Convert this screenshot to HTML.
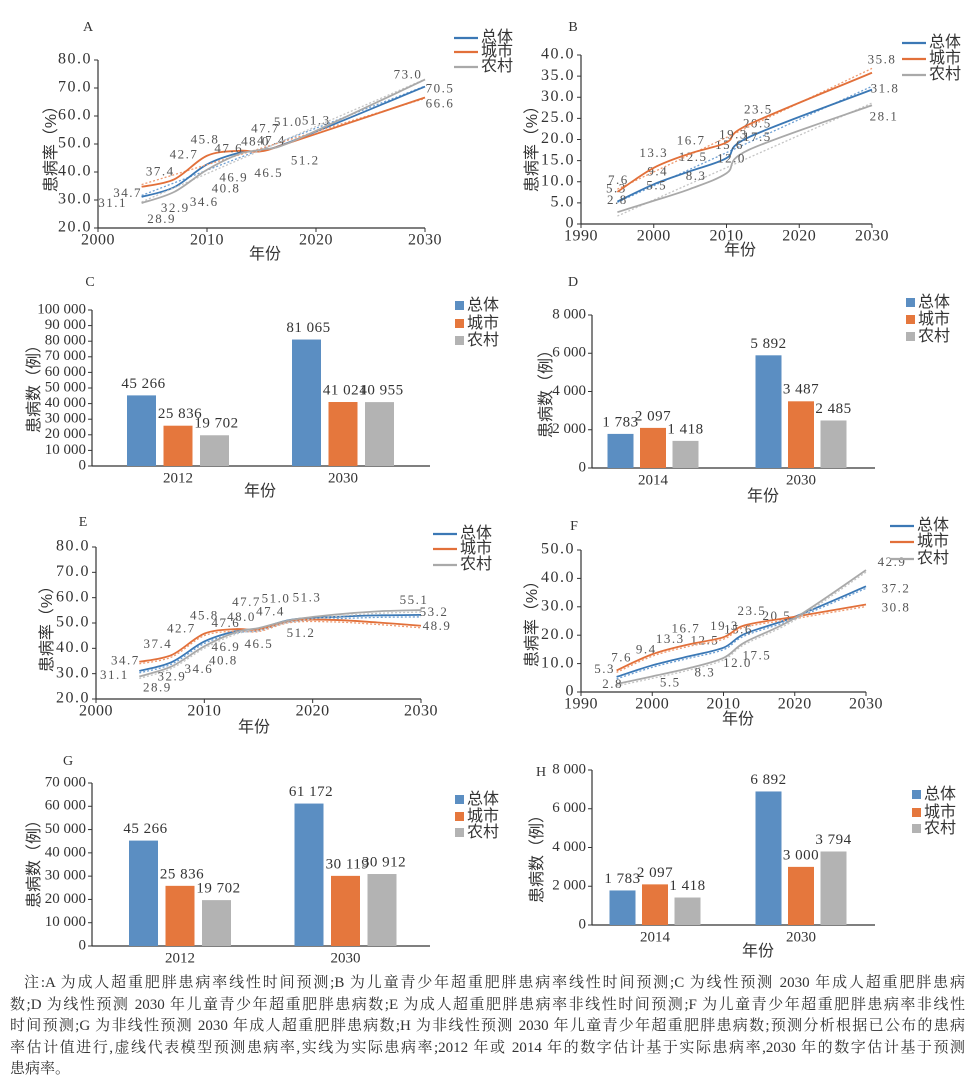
<!DOCTYPE html>
<html><head><meta charset="utf-8">
<style>
html,body{margin:0;padding:0;background:#fff;}
body{width:975px;height:1083px;position:relative;overflow:hidden;}
#fig{position:absolute;left:0;top:0;}
#note{position:absolute;left:10px;top:973px;width:955px;font-family:"Liberation Serif","Noto Serif CJK SC",serif;font-size:15px;line-height:21.6px;color:#333;}
#note div{text-align:justify;text-align-last:justify;white-space:nowrap;overflow:hidden;}
#note div.last{text-align-last:left;}
</style></head>
<body>
<svg id="fig" width="975" height="965" viewBox="0 0 975 965"></svg>
<div id="note">
<div style="text-indent:14px">注:A 为成人超重肥胖患病率线性时间预测;B 为儿童青少年超重肥胖患病率线性时间预测;C 为线性预测 2030 年成人超重肥胖患病</div>
<div>数;D 为线性预测 2030 年儿童青少年超重肥胖患病数;E 为成人超重肥胖患病率非线性时间预测;F 为儿童青少年超重肥胖患病率非线性</div>
<div>时间预测;G 为非线性预测 2030 年成人超重肥胖患病数;H 为非线性预测 2030 年儿童青少年超重肥胖患病数;预测分析根据已公布的患病</div>
<div>率估计值进行,虚线代表模型预测患病率,实线为实际患病率;2012 年或 2014 年的数字估计基于实际患病率,2030 年的数字估计基于预测</div>
<div class="last">患病率。</div>
</div>
<script>
// ---------- DATA ----------
const seriesNames = ['总体','城市','农村'];
// Panel A (adult, linear)
const aYears = [2004,2007,2010,2013,2015,2018,2030];
const aTotal = [31.1,34.6,42.7,46.9,47.7,51.3,70.5];
const aUrban = [34.7,37.4,45.8,47.6,47.4,51.0,66.6];
const aRural = [28.9,32.9,40.8,46.5,48.0,51.2,73.0];
const aYTicks = [20,30,40,50,60,70,80];
const aXTicks = [2000,2010,2020,2030];
// Panel B (children, linear)
const bYears = [1995,2000,2005,2010,2013,2030];
const bTotal = [5.3,9.4,12.5,15.6,20.5,31.8];
const bUrban = [7.6,13.3,16.7,19.3,23.5,35.8];
const bRural = [2.8,5.5,8.3,12.0,17.5,28.1];
const bYTicks = [0,5,10,15,20,25,30,35,40];
const bXTicks = [1990,2000,2010,2020,2030];
// Panel E (adult, nonlinear)
const eYears = [2004,2007,2010,2013,2015,2018,2022,2026,2030];
const eTotal = [31.1,34.6,42.7,46.9,47.7,51.3,52.4,53.0,53.2];
const eUrban = [34.7,37.4,45.8,47.6,47.4,51.0,51.2,50.2,48.9];
const eRural = [28.9,32.9,40.8,46.5,48.0,51.2,53.3,54.6,55.1];
// Panel F (children, nonlinear)
const fYears = [1995,2000,2005,2010,2013,2020,2030];
const fTotal = [5.3,9.4,12.5,15.6,20.5,26.5,37.2];
const fUrban = [7.6,13.3,16.7,19.3,23.5,26.5,30.8];
const fRural = [2.8,5.5,8.3,12.0,17.5,26.0,42.9];
const fYTicks = [0,10,20,30,40,50];
// Bar panels
const cCats = ['2012','2030'];
const cTotal = [45266,81065];
const cUrban = [25836,41021];
const cRural = [19702,40955];
const cYTicks = [0,10000,20000,30000,40000,50000,60000,70000,80000,90000,100000];
const dCats = ['2014','2030'];
const dTotal = [1783,5892];
const dUrban = [2097,3487];
const dRural = [1418,2485];
const dYTicks = [0,2000,4000,6000,8000];
const gCats = ['2012','2030'];
const gTotal = [45266,61172];
const gUrban = [25836,30119];
const gRural = [19702,30912];
const gYTicks = [0,10000,20000,30000,40000,50000,60000,70000];
const hCats = ['2014','2030'];
const hTotal = [1783,6892];
const hUrban = [2097,3000];
const hRural = [1418,3794];

// ---------- label offsets (layout, not data) ----------
const aOff = [
 [[-29,7],[30,16],[-23,-9],[-6,26],[4,-21],[22,-19],[15,3]],
 [[-14,7],[-14,-7],[-2,-15],[-11,-1],[10,-10],[-6,-18],[15,7]],
 [[20,17],[1,17],[19,20],[29,20],[-6,-7],[11,21],[-17,-4]]];
const bOff = [
 [[-1,-12],[4,-12],[3,-13],[3,-12],[9,-13],[13,0]],
 [[1,-11],[0,-14],[1,-12],[7,-7],[10,-14],[10,-12]],
 [[0,-11],[3,-14],[6,-12],[5,-14],[9,-12],[12,12]]];
const eOff = [
 [[-25,5],[27,8],[-23,-12],[-11,17],[-12,-26],[16,-21],null,null,[13,-2]],
 [[-14,0],[-14,-10],[0,-17],[-11,-5],[12,-17],[-15,-21],null,null,[16,1]],
 [[18,12],[0,11],[19,15],[22,13],[-17,-10],[10,14],null,null,[-7,-9]]];
const fOff = [
 [[-12,-7],[-6,-15],[17,-15],[15,-17],[32,-17],null,[30,3]],
 [[5,-12],[18,-14],[-2,-15],[1,-10],[7,-13],null,[30,4]],
 [[-4,1],[18,7],[17,5],[14,6],[12,14],null,[26,-7]]];

const LINE_COLORS = ['#3b78b5','#e2703a','#a9a9a9'];
const DASH_COLORS = ['#6d9fd3','#ee9a70','#c4c4c4'];
const BAR_COLORS = ['#5b8ec2','#e5773d','#b3b3b3'];
const NS = 'http://www.w3.org/2000/svg';
const svg = document.getElementById('fig');
const SERIF = '"Liberation Serif","Noto Serif CJK SC",serif';
const SANS = '"Liberation Sans","Noto Sans CJK SC",sans-serif';

function mk(tag, attrs, parent){
  const e = document.createElementNS(NS, tag);
  for (const k in attrs) e.setAttribute(k, attrs[k]);
  (parent || svg).appendChild(e);
  return e;
}
function txt(parent, x, y, s, size, anchor, fill, font, ls){
  const t = mk('text', {x:x, y:y, 'font-size':size, 'text-anchor':anchor||'middle', fill:fill||'#333', 'font-family':font||SERIF, 'dominant-baseline':'middle', 'letter-spacing':ls||0}, parent);
  t.textContent = s;
  return t;
}
function smooth(pts){
  let d = 'M' + pts[0][0].toFixed(1) + ',' + pts[0][1].toFixed(1);
  for (let i = 0; i < pts.length - 1; i++){
    const p0 = pts[i-1] || pts[i], p1 = pts[i], p2 = pts[i+1], p3 = pts[i+2] || pts[i+1];
    const c1 = [p1[0] + (p2[0]-p0[0])/6, p1[1] + (p2[1]-p0[1])/6];
    const c2 = [p2[0] - (p3[0]-p1[0])/6, p2[1] - (p3[1]-p1[1])/6];
    d += 'C' + c1.join(',') + ' ' + c2.join(',') + ' ' + p2.join(',');
  }
  return d;
}
function fitLine(xs, ys){
  const n = xs.length; let mx=0,my=0; for(let i=0;i<n;i++){mx+=xs[i];my+=ys[i];} mx/=n; my/=n;
  let num=0,den=0; for(let i=0;i<n;i++){num+=(xs[i]-mx)*(ys[i]-my);den+=(xs[i]-mx)*(xs[i]-mx);}
  const b = num/den; return [b, my - b*mx];
}

function commonAxes(g, c){
  const yAxis = mk('line', {x1:c.px0, y1:c.py1, x2:c.px0, y2:c.py0, stroke:'#333', 'stroke-width':1.2}, g);
  
  
  const xAxis = mk('line', {x1:c.px0, y1:c.py0, x2:c.px1, y2:c.py0, stroke:'#333', 'stroke-width':1.2}, g);
  
  
  const lt = txt(g, c.letterX, c.letterY, c.letter, 14, 'middle', '#333');
  
  
  const yt = txt(g, 0, 0, c.ytitle, 16, 'middle', '#333', SANS);
  yt.setAttribute('transform', 'translate(' + c.ytX + ',' + c.ytY + ') rotate(-90)');
  
  
  const xt = txt(g, c.xtX, c.xtY, '年份', 16, 'middle', '#333', SANS);
  
  
}

function lineLegend(g, x, ys, tx){
  for (let i = 0; i < 3; i++){
    const lg = mk('g', {}, g);
    
    
    mk('line', {x1:x, y1:ys[i], x2:x+24, y2:ys[i], stroke:LINE_COLORS[i], 'stroke-width':2.2}, lg);
    txt(lg, tx, ys[i], seriesNames[i], 16, 'start', '#333', SANS);
  }
}

function lineChart(c){
  const g = mk('g', {});
  
  
  const sx = v => c.px0 + (v - c.xmin) / (c.xmax - c.xmin) * (c.px1 - c.px0);
  const sy = v => c.py0 - (v - c.ymin) / (c.ymax - c.ymin) * (c.py0 - c.py1);
  commonAxes(g, c);
  c.yticks.forEach(v => {
    mk('line', {x1:c.px0-4, y1:sy(v), x2:c.px0, y2:sy(v), stroke:'#333'}, g);
    const t = txt(g, c.px0-6, sy(v), v === 0 ? '0' : v.toFixed(1), 16, 'end', '#333', SERIF, 1.5);
    
    
  });
  c.xticks.forEach(v => {
    mk('line', {x1:sx(v), y1:c.py0, x2:sx(v), y2:c.py0+4, stroke:'#333'}, g);
    const t = txt(g, sx(v), c.py0+13, String(v), 16, 'middle', '#333', SERIF, 0.5);
    
    
  });
  c.series.forEach((vals, si) => {
    const pts = c.years.map((yr, i) => [sx(yr), sy(vals[i])]);
    let dd;
    if (c.linear){
      const hx = c.years.slice(0, -1), hy = vals.slice(0, -1);
      const [b, a] = fitLine(hx, hy);
      const x0 = c.years[0], x1 = c.years[c.years.length-1];
      dd = 'M' + sx(x0) + ',' + sy(a + b*x0) + 'L' + sx(x1) + ',' + sy(a + b*x1);
    } else {
      dd = smooth(pts.map(p => [p[0], p[1] + 2]));
    }
    const dash = mk('path', {d:dd, fill:'none', stroke:DASH_COLORS[si], 'stroke-width':1.3, 'stroke-dasharray':'2,2'}, g);
    
    
    const line = mk('path', {d:smooth(pts), fill:'none', stroke:LINE_COLORS[si], 'stroke-width':1.8}, g);
    
    
    vals.forEach((v, i) => {
      const off = c.offsets[si][i];
      if (!off) return;
      const t = txt(g, pts[i][0] + off[0], pts[i][1] + off[1], v.toFixed(1), 13, 'middle', '#555', SERIF, 1.5);
      
      
    });
  });
  lineLegend(g, c.legX, c.legY, c.legX + 27);
}

function fmtN(n){ return n < 1000 ? String(n) : Math.floor(n/1000) + ' ' + String(n % 1000).padStart(3, '0'); }

function barChart(c){
  const g = mk('g', {});
  
  
  const sy = v => c.py0 - v / c.ymax * (c.py0 - c.py1);
  commonAxes(g, c);
  c.yticks.forEach(v => {
    mk('line', {x1:c.px0-4, y1:sy(v), x2:c.px0, y2:sy(v), stroke:'#333'}, g);
    const t = txt(g, c.px0-6, sy(v), v === 0 ? '0' : fmtN(v), 15, 'end', '#333');
    
    
  });
  c.cats.forEach((cat, ci) => {
    const cx = c.centers[ci];
    const t = txt(g, cx, c.py0+13, cat, 15, 'middle', '#333');
    
    
    c.series.forEach((vals, si) => {
      const bx = cx + (si - 1) * c.step - c.bw/2;
      const r = mk('rect', {x:bx, y:sy(vals[ci]), width:c.bw, height:c.py0 - sy(vals[ci]), fill:BAR_COLORS[si]}, g);
      
      
      const l = txt(g, bx + c.bw/2 + c.lblDx, sy(vals[ci]) - 11, fmtN(vals[ci]), 15, 'middle', '#333', SERIF, 0.5);
      
      
    });
  });
  for (let i = 0; i < 3; i++){
    const lg = mk('g', {}, g);
    
    
    mk('rect', {x:c.legX, y:c.legY[i]-5, width:9, height:9, fill:BAR_COLORS[i]}, lg);
    txt(lg, c.legX+12, c.legY[i], seriesNames[i], 16, 'start', '#333', SANS);
  }
}

// ---------- panels ----------
lineChart({name:'panel-a-chart', letter:'A', letterX:88, letterY:28, px0:98, px1:425, py0:228, py1:60,
  xmin:2000, xmax:2030, ymin:20, ymax:80, yticks:aYTicks, xticks:aXTicks, years:aYears,
  series:[aTotal,aUrban,aRural], offsets:aOff, linear:true,
  ytitle:'患病率（%）', ytX:52, ytY:145, xtX:265, xtY:255, legX:454, legY:[38,52,67]});
lineChart({name:'panel-b-chart', letter:'B', letterX:573, letterY:28, px0:581, px1:872, py0:224, py1:55,
  xmin:1990, xmax:2030, ymin:0, ymax:40, yticks:bYTicks, xticks:bXTicks, years:bYears,
  series:[bTotal,bUrban,bRural], offsets:bOff, linear:true,
  ytitle:'患病率（%）', ytX:533, ytY:145, xtX:740, xtY:251, legX:902, legY:[43,59,75]});
lineChart({name:'panel-e-chart', letter:'E', letterX:83, letterY:523, px0:96, px1:421, py0:699, py1:547,
  xmin:2000, xmax:2030, ymin:20, ymax:80, yticks:aYTicks, xticks:aXTicks, years:eYears,
  series:[eTotal,eUrban,eRural], offsets:eOff, linear:false,
  ytitle:'患病率（%）', ytX:48, ytY:625, xtX:254, xtY:728, legX:433, legY:[534,549,565]});
lineChart({name:'panel-f-chart', letter:'F', letterX:574, letterY:527, px0:581, px1:866, py0:692, py1:550,
  xmin:1990, xmax:2030, ymin:0, ymax:50, yticks:fYTicks, xticks:bXTicks, years:fYears,
  series:[fTotal,fUrban,fRural], offsets:fOff, linear:false,
  ytitle:'患病率（%）', ytX:533, ytY:620, xtX:738, xtY:720, legX:890, legY:[526,542,559]});

barChart({name:'panel-c-chart', letter:'C', letterX:90, letterY:283, px0:92, px1:430, py0:466, py1:310,
  ymax:100000, yticks:cYTicks, cats:cCats, centers:[178,343], step:36.5, bw:29, lblDx:2,
  series:[cTotal,cUrban,cRural], ytitle:'患病数（例）', ytX:35, ytY:385, xtX:260, xtY:492,
  legX:455, legY:[306,324,341]});
barChart({name:'panel-d-chart', letter:'D', letterX:573, letterY:283, px0:592, px1:875, py0:468, py1:315,
  ymax:8000, yticks:dYTicks, cats:dCats, centers:[653,801], step:32.5, bw:26, lblDx:0,
  series:[dTotal,dUrban,dRural], ytitle:'患病数（例）', ytX:547, ytY:390, xtX:763, xtY:497,
  legX:906, legY:[303,320,337]});
barChart({name:'panel-g-chart', letter:'G', letterX:68, letterY:762, px0:92, px1:430, py0:946, py1:783,
  ymax:70000, yticks:gYTicks, cats:gCats, centers:[180,345.5], step:36.5, bw:29, lblDx:2,
  series:[gTotal,gUrban,gRural], ytitle:'患病数（例）', ytX:35, ytY:860, xtX:262, xtY:975,
  legX:455, legY:[800,817,833]});
barChart({name:'panel-h-chart', letter:'H', letterX:541, letterY:773, px0:592, px1:875, py0:925, py1:770,
  ymax:8000, yticks:dYTicks, cats:hCats, centers:[655,801], step:32.5, bw:26, lblDx:0,
  series:[hTotal,hUrban,hRural], ytitle:'患病数（例）', ytX:538, ytY:855, xtX:758, xtY:952,
  legX:912, legY:[795,813,829]});
</script>
</body></html>
